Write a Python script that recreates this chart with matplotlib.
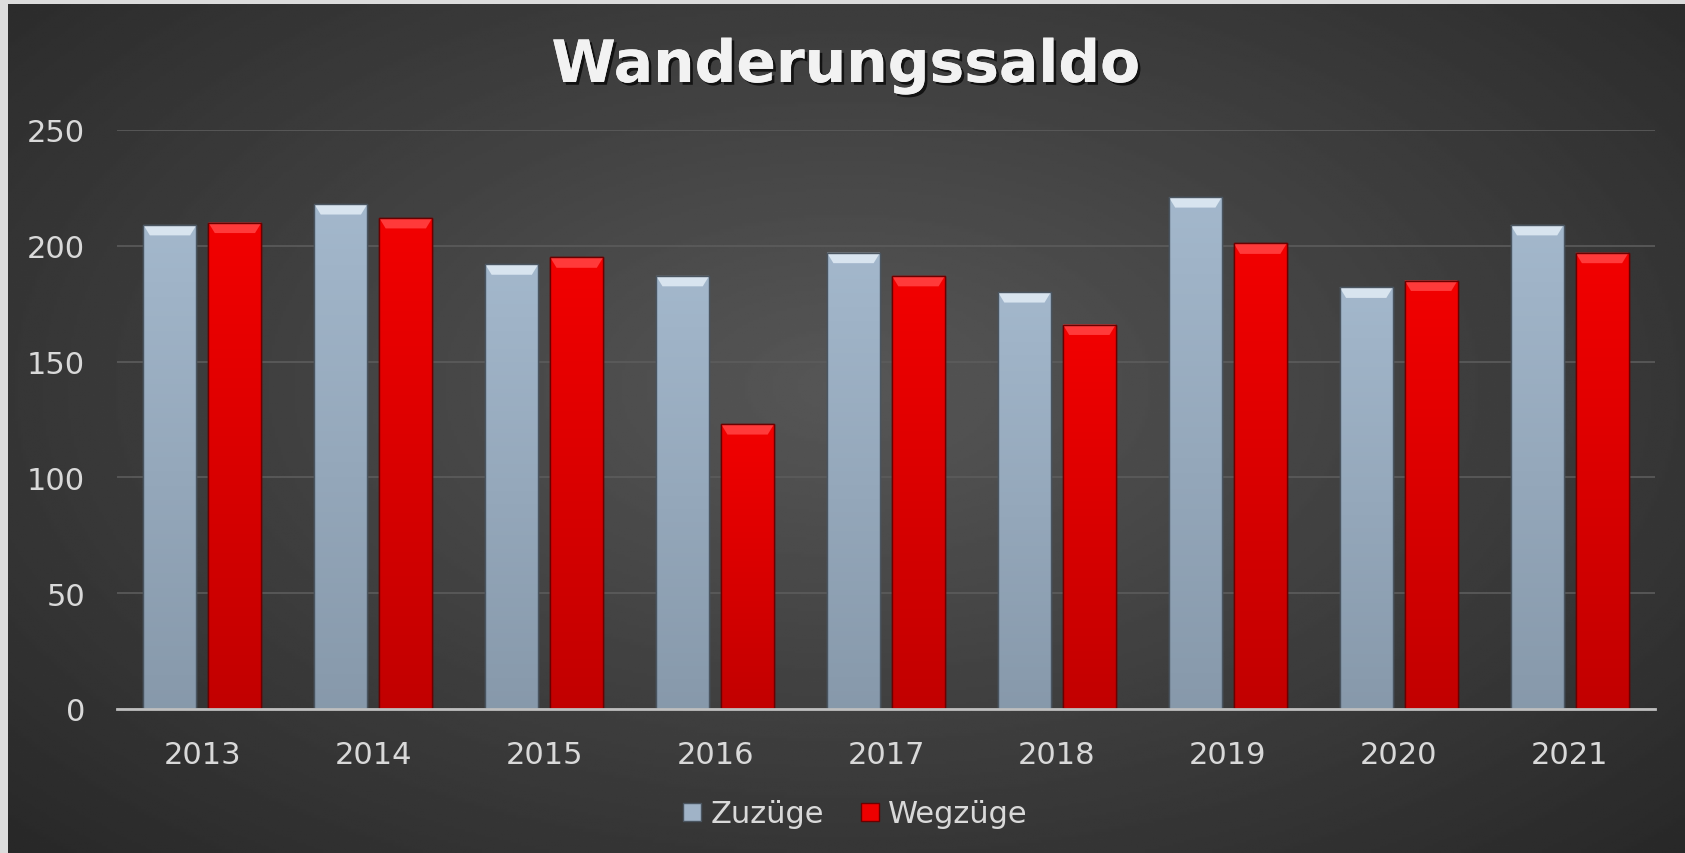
"""Wanderungssaldo: Zuzüge vs. Wegzüge per year, dark Excel-style bar chart."""
import matplotlib

matplotlib.use("Agg")
import matplotlib.patheffects as pe  # noqa: E402
import matplotlib.pyplot as plt  # noqa: E402
import numpy as np  # noqa: E402
from matplotlib.patches import Polygon  # noqa: E402

years = ["2013", "2014", "2015", "2016", "2017", "2018", "2019", "2020", "2021"]
zuzuege = [209, 218, 192, 187, 197, 180, 221, 182, 209]
wegzuege = [210, 212, 195, 123, 187, 166, 201, 185, 197]
y_ticks = [0, 50, 100, 150, 200, 250]

TEXT = "#d9d9d9"
BAR_W = 0.31
OFFSET = 0.19

fig = plt.figure(figsize=(16.85, 8.54), dpi=100, facecolor="#dcdcdc")

# dark radial background behind everything
bg = fig.add_axes([8 / 1685, 0, 1 - 8 / 1685, 849 / 854], zorder=-5)
yy, xx = np.mgrid[0:1:300j, 0:1:600j]
dist = np.sqrt((xx - 0.5) ** 2 + ((yy - 0.55) * 0.9) ** 2)
shade = np.clip(0.34 - 0.26 * dist, 0.15, 0.34)
bg.imshow(shade, cmap="gray", vmin=0, vmax=1, aspect="auto", extent=[0, 1, 0, 1],
          origin="lower")
bg.set_axis_off()

ax = fig.add_axes([117 / 1685, 144 / 854, 1538 / 1685, 579 / 854])
ax.patch.set_alpha(0)

x = np.arange(len(years))
bars_z = ax.bar(x - OFFSET, zuzuege, BAR_W, color="#a0b3c7", edgecolor="#4a5560",
                linewidth=1, zorder=3, label="Zuzüge")
bars_w = ax.bar(x + OFFSET, wegzuege, BAR_W, color="#ee0000", edgecolor="#6a0000",
                linewidth=1, zorder=3, label="Wegzüge")


def shade_bars(bars, top_rgb, bottom_rgb, bevel_rgb):
    # vertical gradient clipped to each bar, plus a lighter bevel cap on top
    grad = np.linspace(0, 1, 100)[:, None]
    top = np.array(top_rgb)
    bottom = np.array(bottom_rgb)
    img = (top * (1 - grad) + bottom * grad)[:, :, None].transpose(0, 2, 1)
    img = np.repeat(img, 2, axis=1)
    for bar in bars:
        x0, w, h = bar.get_x(), bar.get_width(), bar.get_height()
        im = ax.imshow(img, extent=[x0, x0 + w, 0, h], aspect="auto", zorder=3.5)
        im.set_clip_path(bar)
        cap = 4.5
        inset = w * 0.12
        ax.add_patch(Polygon([[x0, h], [x0 + w, h], [x0 + w - inset, h - cap],
                              [x0 + inset, h - cap]], closed=True,
                             facecolor=bevel_rgb, edgecolor="none", zorder=3.6))
        ax.add_patch(plt.Rectangle((x0, 0), w, h, facecolor="none",
                                   edgecolor=bar.get_edgecolor(), linewidth=1, zorder=3.7))


shade_bars(bars_z, (0.64, 0.72, 0.80), (0.53, 0.60, 0.67), "#d8e4ef")
shade_bars(bars_w, (0.95, 0.0, 0.0), (0.76, 0.0, 0.0), "#ff3a3a")

ax.set_xlim(-0.5, len(years) - 0.5)
ax.set_ylim(0, 250)
ax.set_yticks(y_ticks)
ax.set_xticks(x)
ax.set_xticklabels(years)
ax.grid(axis="y", color="#5c5c5c", linewidth=1.2, zorder=0)
ax.set_axisbelow(True)
for side in ("top", "right", "left"):
    ax.spines[side].set_visible(False)
ax.spines["bottom"].set_color("#bfbfbf")
ax.spines["bottom"].set_linewidth(2)
ax.spines["bottom"].set_zorder(5)
ax.tick_params(axis="both", length=0, colors=TEXT, labelsize=22)
ax.tick_params(axis="x", pad=22)
ax.tick_params(axis="y", pad=23)

fig.text(0.502, 1 - 83 / 854, "Wanderungssaldo", ha="center", va="baseline",
         fontsize=42, fontweight="bold", color="#f2f2f2",
         path_effects=[pe.withSimplePatchShadow(offset=(2, -2), shadow_rgbFace="black",
                                                alpha=0.7), pe.Normal()])

handles = [plt.Line2D([], [], marker="s", linestyle="none", markersize=13,
                      markerfacecolor="#a0b3c7", markeredgecolor="#4a5560"),
           plt.Line2D([], [], marker="s", linestyle="none", markersize=13,
                      markerfacecolor="#ee0000", markeredgecolor="#6a0000")]
fig.legend(handles, ["Zuzüge", "Wegzüge"], loc="center", bbox_to_anchor=(0.506, 0.046),
           ncol=2, frameon=False, fontsize=22, labelcolor=TEXT, handletextpad=0.1,
           columnspacing=1.0, handlelength=1.0)

fig.savefig("out.png", dpi=100, facecolor=fig.get_facecolor())
